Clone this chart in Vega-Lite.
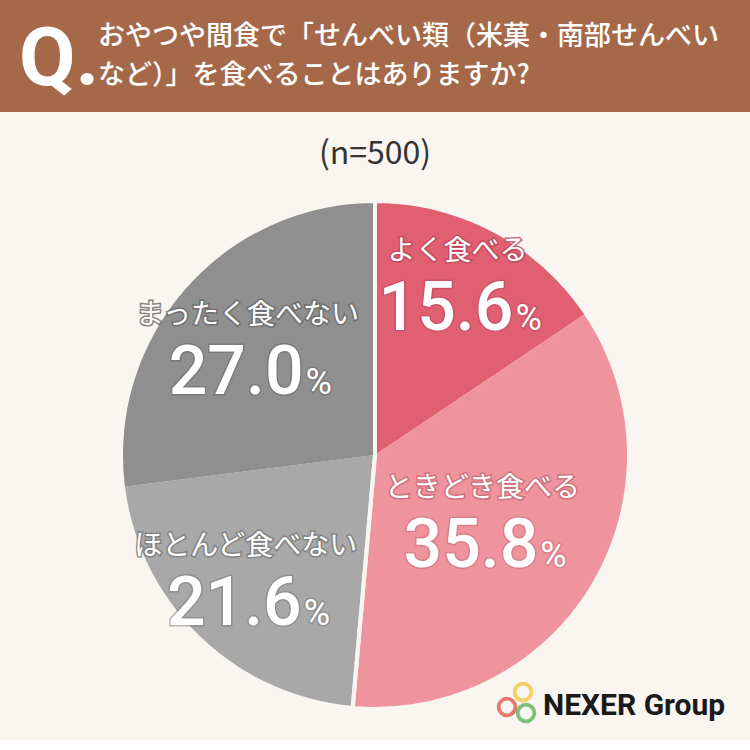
{
  "$schema": "https://vega.github.io/schema/vega-lite/v6.json",
  "background": "#F9F5F0",
  "padding": 0,
  "spacing": 0,
  "config": {"view": {"stroke": null}},
  "datasets": {
    "question": [
      {"col": "Q", "line": "Q", "text": "Q."},
      {"col": "text", "line": "1", "text": "おやつや間食で「せんべい類（米菓・南部せんべい"},
      {"col": "text", "line": "2", "text": "など）」を食べることはありますか?"}
    ],
    "slices": [
      {"answer": "よく食べる", "group": "食べる", "rank": 1, "pct": 15.6},
      {"answer": "ときどき食べる", "group": "食べる", "rank": 2, "pct": 35.8},
      {"answer": "ほとんど食べない", "group": "食べない", "rank": 3, "pct": 21.6},
      {"answer": "まったく食べない", "group": "食べない", "rank": 4, "pct": 27.0}
    ],
    "logo": [
      {"item": "yellow"},
      {"item": "red"},
      {"item": "green"},
      {"item": "NEXER Group"}
    ]
  },
  "vconcat": [
    {
      "width": 750,
      "height": 112,
      "view": {"fill": "#A5694A", "stroke": null},
      "title": {
        "text": "(n=500)",
        "orient": "bottom",
        "offset": 27,
        "fontSize": 32,
        "font": "Noto Sans CJK JP",
        "fontWeight": 400,
        "color": "#333333"
      },
      "data": {"name": "question"},
      "encoding": {
        "x": {"field": "col", "type": "nominal", "axis": null,
              "scale": {"type": "point", "domain": ["Q", "text"], "range": [19, 98], "padding": 0}},
        "y": {"field": "line", "type": "nominal", "axis": null,
              "scale": {"type": "point", "domain": ["1", "Q", "2"], "range": [37, 76], "padding": 0}},
        "text": {"field": "text"}
      },
      "layer": [
        {
          "transform": [{"filter": "datum.col == 'Q'"}],
          "mark": {"type": "text", "align": "left", "baseline": "alphabetic", "dy": 28,
                   "fontSize": 82, "fontWeight": 700, "font": "Roboto", "color": "white"}
        },
        {
          "transform": [{"filter": "datum.col == 'text'"}],
          "mark": {"type": "text", "align": "left", "baseline": "middle",
                   "fontSize": 27, "fontWeight": 500, "font": "Noto Sans CJK JP", "color": "white"}
        }
      ]
    },
    {
      "width": 750,
      "height": 570,
      "encoding": {
        "theta": {"field": "pct", "type": "quantitative", "stack": true},
        "order": {"field": "rank", "type": "quantitative"}
      },
      "layer": [
        {
          "data": {"name": "slices"},
          "mark": {"type": "arc", "radius": 253},
          "encoding": {
            "color": {"field": "answer", "type": "nominal", "legend": null,
                      "scale": {"domain": ["よく食べる", "ときどき食べる", "ほとんど食べない", "まったく食べない"],
                                "range": ["#E06072", "#EF949E", "#A8A8A8", "#8F8F8F"]}}
          }
        },
        {
          "data": {"name": "slices"},
          "transform": [
            {"aggregate": [{"op": "sum", "field": "pct", "as": "pct"}, {"op": "min", "field": "rank", "as": "rank"}],
             "groupby": ["group"]}
          ],
          "mark": {"type": "arc", "radius": 254, "filled": false, "stroke": "#F9F5F0", "strokeWidth": 4}
        },
        {
          "data": {"name": "slices"},
          "encoding": {
            "radius": {"field": "pct", "type": "quantitative", "legend": null,
                       "scale": {"type": "linear", "domain": [15.6, 35.8], "range": [192, 134], "zero": false}},
            "stroke": {"field": "answer", "type": "nominal", "legend": null,
                       "scale": {"domain": ["よく食べる", "ときどき食べる", "ほとんど食べない", "まったく食べない"],
                                 "range": ["#B9485A", "#C76A77", "#7A7A7A", "#696969"]}}
          },
          "layer": [
            {
              "mark": {"type": "text", "dy": -34, "dx": -8, "baseline": "middle", "strokeWidth": 3, "opacity": 0.8,
                       "fontSize": 28, "fontWeight": 400, "font": "Noto Sans CJK JP", "color": "white"},
              "encoding": {"text": {"field": "answer"}}
            },
            {
              "mark": {"type": "text", "dy": 44, "dx": 48, "align": "right", "baseline": "alphabetic",
                       "strokeWidth": 3, "opacity": 0.5,
                       "fontSize": 68, "fontWeight": 500, "font": "Roboto", "color": "white"},
              "encoding": {"text": {"field": "pct", "format": ".1f"}}
            },
            {
              "mark": {"type": "text", "dy": 44, "dx": 50, "align": "left", "baseline": "alphabetic",
                       "strokeWidth": 3, "opacity": 0.5,
                       "fontSize": 36, "fontWeight": 400, "font": "Roboto", "color": "white"},
              "encoding": {"text": {"value": "%"}}
            }
          ]
        },
        {
          "data": {"name": "slices"},
          "encoding": {
            "radius": {"field": "pct", "type": "quantitative", "legend": null,
                       "scale": {"type": "linear", "domain": [15.6, 35.8], "range": [192, 134], "zero": false}}
          },
          "layer": [
            {
              "mark": {"type": "text", "dy": -34, "dx": -8, "baseline": "middle",
                       "fontSize": 28, "fontWeight": 400, "font": "Noto Sans CJK JP", "color": "white"},
              "encoding": {"text": {"field": "answer"}}
            },
            {
              "mark": {"type": "text", "dy": 44, "dx": 48, "align": "right", "baseline": "alphabetic",
                       "fontSize": 68, "fontWeight": 500, "font": "Roboto", "color": "white"},
              "encoding": {"text": {"field": "pct", "format": ".1f"}}
            },
            {
              "mark": {"type": "text", "dy": 44, "dx": 50, "align": "left", "baseline": "alphabetic",
                       "fontSize": 36, "fontWeight": 400, "font": "Roboto", "color": "white"},
              "encoding": {"text": {"value": "%"}}
            }
          ]
        },
        {
          "data": {"name": "logo"},
          "encoding": {
            "theta": null,
            "order": null,
            "x": {"field": "item", "type": "nominal", "axis": null,
                  "scale": {"type": "point", "domain": ["red", "yellow", "green", "NEXER Group"], "range": [507, 543], "padding": 0}},
            "y": {"field": "item", "type": "nominal", "axis": null,
                  "scale": {"type": "point", "domain": ["yellow", "red", "NEXER Group", "green"], "range": [522, 543], "padding": 0}}
          },
          "layer": [
            {"transform": [{"filter": "datum.item == 'yellow'"}],
             "mark": {"type": "point", "shape": "circle", "filled": false, "size": 280, "strokeWidth": 3.8, "stroke": "#F2C12E", "xOffset": 4}},
            {"transform": [{"filter": "datum.item == 'red'"}],
             "mark": {"type": "point", "shape": "circle", "filled": false, "size": 280, "strokeWidth": 3.8, "stroke": "#DE4638", "yOffset": 8}},
            {"transform": [{"filter": "datum.item == 'green'"}],
             "mark": {"type": "point", "shape": "circle", "filled": false, "size": 280, "strokeWidth": 3.8, "stroke": "#4BA948", "xOffset": -5}},
            {"transform": [{"filter": "datum.item == 'NEXER Group'"}],
             "mark": {"type": "text", "align": "left", "baseline": "middle", "fontSize": 30, "fontWeight": 700, "font": "Roboto", "color": "#1A1A1A"},
             "encoding": {"text": {"field": "item"}}}
          ]
        }
      ]
    }
  ]
}
